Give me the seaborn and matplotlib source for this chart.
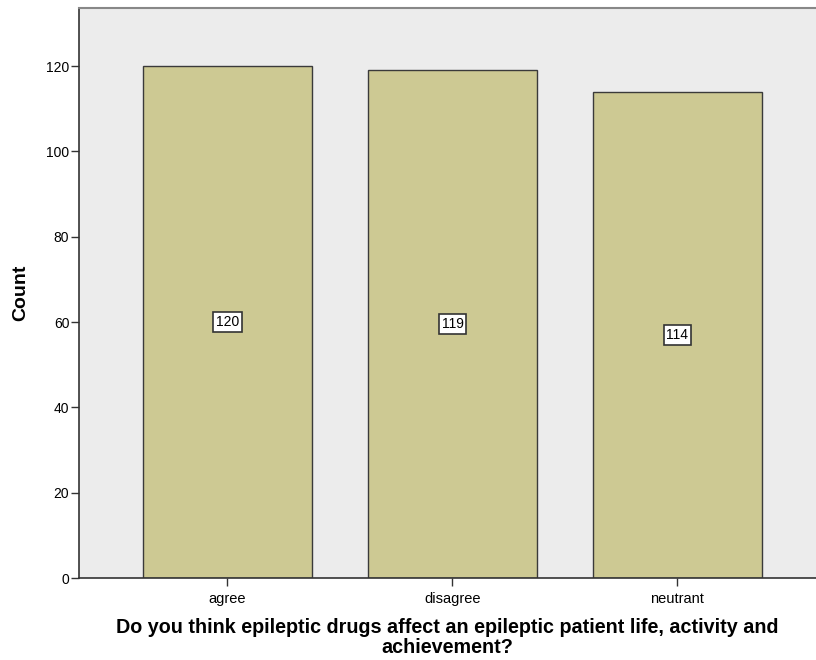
import matplotlib
matplotlib.use("Agg")
import matplotlib.pyplot as plt
import seaborn as sns
import pandas as pd

categories = ["agree", "disagree", "neutrant"]
counts = [120, 119, 114]
y_ticks = [0, 20, 40, 60, 80, 100, 120]

df = pd.DataFrame({"answer": categories, "count": counts})

sns.set_theme(style="white")
plt.rcParams["font.family"] = ["Liberation Sans", "DejaVu Sans"]
plt.rcParams["text.color"] = "black"
plt.rcParams["axes.labelcolor"] = "black"
plt.rcParams["xtick.color"] = "black"
plt.rcParams["ytick.color"] = "black"

fig = plt.figure(figsize=(8.16, 6.6), dpi=100)
ax = fig.add_axes([0.0968, 0.1242, 0.9032, 0.8637])
ax.set_facecolor("#ececec")

sns.barplot(data=df, x="answer", y="count", ax=ax, color="#cdc993",
            saturation=1, width=0.75, edgecolor="#3a3a3a", linewidth=1.0)

for i, v in enumerate(counts):
    ax.text(i, v / 2, str(v), ha="center", va="center", fontsize=10,
            color="black",
            bbox=dict(boxstyle="square,pad=0.2", facecolor="white",
                      edgecolor="#333333", linewidth=1.2))

ax.set_xlim(-0.66, 2.616)
ax.set_ylim(0, 133.6)
ax.set_yticks(y_ticks)
ax.set_yticklabels([str(t) for t in y_ticks], fontsize=10)
ax.tick_params(axis="x", labelsize=10.5, length=6, width=1, color="#333333",
               bottom=True, pad=4)
ax.tick_params(axis="y", length=6, width=1, color="#333333", left=True, pad=1)

for side in ["left", "bottom"]:
    ax.spines[side].set_color("#333333")
    ax.spines[side].set_linewidth(1.2)
ax.spines["top"].set_color("#888888")
ax.spines["top"].set_linewidth(1.5)
ax.spines["right"].set_visible(False)

ax.set_ylabel("Count", fontsize=14, fontweight="bold", labelpad=12)
ax.set_xlabel("Do you think epileptic drugs affect an epileptic patient life, activity and\nachievement?",
              fontsize=14.2, fontweight="bold", labelpad=9, linespacing=1.05)

fig.savefig("out.png", dpi=100)
